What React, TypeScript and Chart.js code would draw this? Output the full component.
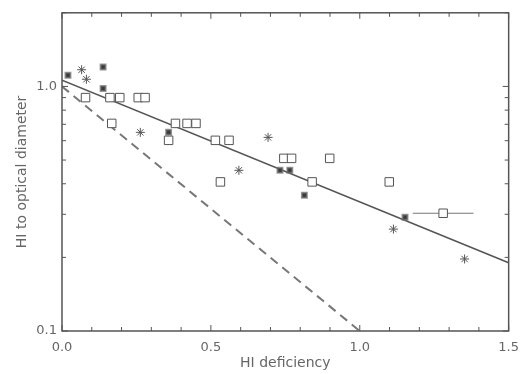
import React, { useEffect, useRef } from "react";
import { Chart, registerables } from "chart.js";

Chart.register(...registerables);

// Open squares
const squareX = [0.079, 0.161, 0.194, 0.256, 0.279, 0.167, 0.381, 0.42, 0.45, 0.358, 0.515, 0.561, 0.532, 0.745, 0.771, 0.899, 0.84, 1.099, 1.28];
const squareY = [0.9, 0.9, 0.9, 0.9, 0.9, 0.706, 0.706, 0.706, 0.706, 0.602, 0.602, 0.602, 0.407, 0.508, 0.508, 0.508, 0.407, 0.407, 0.303];

// Asterisks
const starX = [0.066, 0.082, 0.263, 0.594, 0.692, 1.113, 1.352];
const starY = [1.17, 1.07, 0.649, 0.454, 0.619, 0.261, 0.197];

// Filled (overlapping) marks
const filledX = [0.02, 0.138, 0.138, 0.358, 0.732, 0.765, 0.814, 1.152];
const filledY = [1.11, 1.2, 0.98, 0.649, 0.454, 0.454, 0.359, 0.292];

// Error bar on one square
const errY = [0.303];
const errLow = [1.178];
const errHigh = [1.382];

// Fitted (solid) and reference (dashed) lines
const fitX = [0, 1.5];
const fitY = [1.06, 0.19];
const refX = [0, 1.0];
const refY = [1.0, 0.1];

const yTicks = [0.1, 0.2, 0.3, 0.4, 0.5, 0.6, 0.7, 0.8, 0.9, 1, 2];

const INK = "#555";
const TEXT = "#666";
const FONT = "'DejaVu Sans', sans-serif";

const zip = (xs: number[], ys: number[]) => xs.map((x, i) => ({ x, y: ys[i] }));

const framePlugin = {
  id: "frameTicks",
  afterDraw(chart: any) {
    const { ctx, chartArea: a, scales } = chart;
    ctx.save();
    ctx.strokeStyle = INK;
    ctx.lineWidth = 1.5;
    ctx.strokeRect(a.left, a.top, a.right - a.left, a.bottom - a.top);
    ctx.lineWidth = 1;
    const xs = scales.x;
    xs.ticks.forEach((t: any) => {
      const v = t.value;
      const px = xs.getPixelForValue(v);
      const major = Math.abs(v * 2 - Math.round(v * 2)) < 1e-6;
      const len = major ? 6 : 4;
      ctx.beginPath();
      ctx.moveTo(px, a.bottom);
      ctx.lineTo(px, a.bottom - len);
      ctx.moveTo(px, a.top);
      ctx.lineTo(px, a.top + len);
      ctx.stroke();
    });
    const ys = scales.y;
    yTicks.forEach((v) => {
      const py = ys.getPixelForValue(v);
      const major = v === 0.1 || v === 1;
      const len = major ? 6 : 4;
      ctx.beginPath();
      ctx.moveTo(a.left, py);
      ctx.lineTo(a.left + len, py);
      ctx.moveTo(a.right, py);
      ctx.lineTo(a.right - len, py);
      ctx.stroke();
    });
    ctx.restore();
  },
};

const errorBarPlugin = {
  id: "errorBars",
  beforeDatasetsDraw(chart: any) {
    const { ctx, scales } = chart;
    ctx.save();
    ctx.strokeStyle = "#777";
    ctx.lineWidth = 1;
    errY.forEach((y, i) => {
      const py = scales.y.getPixelForValue(y);
      ctx.beginPath();
      ctx.moveTo(scales.x.getPixelForValue(errLow[i]), py);
      ctx.lineTo(scales.x.getPixelForValue(errHigh[i]), py);
      ctx.stroke();
    });
    ctx.restore();
  },
};

export default function App() {
  const ref = useRef<HTMLCanvasElement | null>(null);

  useEffect(() => {
    if (!ref.current) return;
    const chart = new Chart(ref.current, {
      type: "scatter",
      data: {
        datasets: [
          {
            label: "filled",
            data: zip(filledX, filledY),
            pointStyle: "rect",
            pointRadius: 3.5,
            backgroundColor: "#3a3a3a",
            borderColor: "rgba(110,110,110,0.7)",
            borderWidth: 2,
          },
          {
            label: "stars",
            data: zip(starX, starY),
            pointStyle: "star",
            pointRadius: 4.5,
            borderColor: "#555",
            borderWidth: 1,
          },
          {
            label: "squares",
            data: zip(squareX, squareY),
            pointStyle: "rect",
            pointRadius: 6,
            backgroundColor: "#fff",
            borderColor: "#555",
            borderWidth: 1,
          },
          {
            label: "fit",
            data: zip(fitX, fitY),
            showLine: true,
            pointRadius: 0,
            borderColor: "#555",
            borderWidth: 1.6,
          },
          {
            label: "ref",
            data: zip(refX, refY),
            showLine: true,
            pointRadius: 0,
            borderColor: "#777",
            borderWidth: 2,
            borderDash: [9, 6],
          },
        ],
      },
      options: {
        responsive: false,
        animation: false,
        layout: { padding: { left: 0, right: 9, top: 11, bottom: 0 } },
        plugins: {
          legend: { display: false },
          tooltip: { enabled: false },
        },
        scales: {
          x: {
            type: "linear",
            min: 0,
            max: 1.5,
            grid: { display: false, drawTicks: false },
            border: { display: false },
            ticks: {
              stepSize: 0.1,
              autoSkip: false,
              maxRotation: 0,
              padding: 9,
              color: TEXT,
              font: { family: FONT, size: 13 },
              callback: (v: any) => {
                const n = Number(v);
                return Math.abs(n * 2 - Math.round(n * 2)) < 1e-6 ? n.toFixed(1) : "";
              },
            },
            title: {
              display: true,
              text: "HI deficiency",
              color: TEXT,
              font: { family: FONT, size: 14 },
              padding: { top: 0, bottom: 2 },
            },
            afterFit: (s: any) => {
              s.height = 43;
            },
          },
          y: {
            type: "logarithmic",
            min: 0.1,
            max: 2,
            grid: { display: false, drawTicks: false },
            border: { display: false },
            afterBuildTicks: (s: any) => {
              s.ticks = yTicks.map((v) => ({ value: v }));
            },
            ticks: {
              autoSkip: false,
              padding: 5,
              color: TEXT,
              font: { family: FONT, size: 13 },
              callback: (v: any) => {
                const n = Number(v);
                if (Math.abs(n - 0.1) < 1e-9) return "0.1";
                if (Math.abs(n - 1) < 1e-9) return "1.0";
                return "";
              },
            },
            title: {
              display: true,
              text: "HI to optical diameter",
              color: TEXT,
              font: { family: FONT, size: 14 },
              padding: { top: 14, bottom: 0 },
            },
            afterFit: (s: any) => {
              s.width = 62;
            },
          },
        },
      },
      plugins: [framePlugin, errorBarPlugin],
    });
    return () => chart.destroy();
  }, []);

  return (
    <div style={{ position: "fixed", left: 0, top: 0, width: 528, height: 374, background: "#fff" }}>
      <canvas ref={ref} width={528} height={374} />
    </div>
  );
}
